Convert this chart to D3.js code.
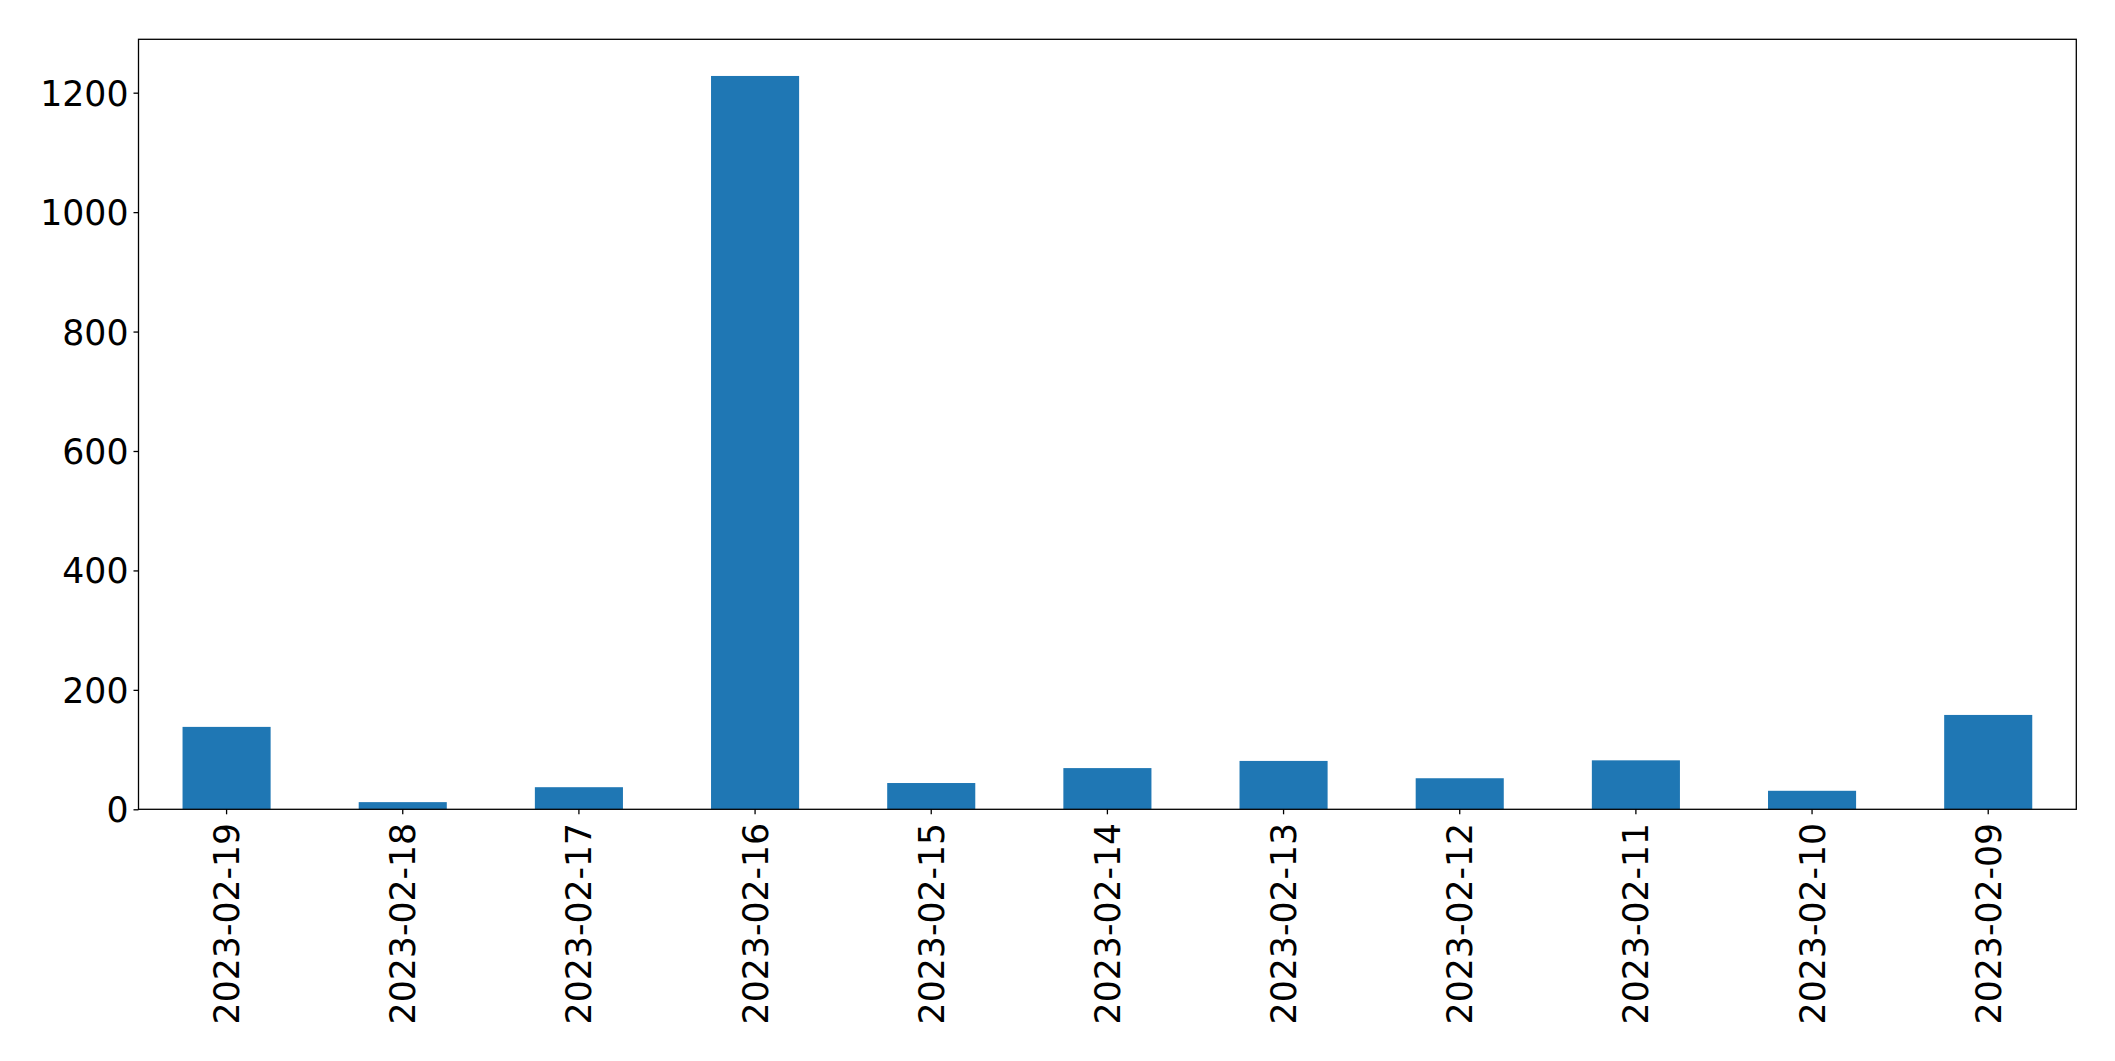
<!DOCTYPE html>
<html>
<head>
<meta charset="utf-8">
<script src="https://cdn.jsdelivr.net/npm/d3@7"></script>
<style>
  html, body { margin: 0; padding: 0; background: #fff; }
  svg { display: block; }
  text { font-family: "DejaVu Sans", sans-serif; fill: #000; }
</style>
</head>
<body>
<svg id="chart" width="2115" height="1061"></svg>
<script>
const categories = ["2023-02-19","2023-02-18","2023-02-17","2023-02-16","2023-02-15","2023-02-14","2023-02-13","2023-02-12","2023-02-11","2023-02-10","2023-02-09"];
const values = [138, 12, 37, 1228, 44, 69, 81, 52, 82, 31, 158];
const yTicks = [0, 200, 400, 600, 800, 1000, 1200];

const W = 2115, H = 1061;
const m = { left: 138.5, top: 39.3, right: W - 2076.3, bottom: H - 809.3 };
const iw = W - m.left - m.right, ih = H - m.top - m.bottom;

const svg = d3.select("#chart");
const g = svg.append("g").attr("transform", `translate(${m.left},${m.top})`);

const x = d3.scaleBand().domain(categories).range([0, iw]).paddingInner(0.5).paddingOuter(0.25);
const y = d3.scaleLinear().domain([0, d3.max(values) * 1.05]).range([ih, 0]);

g.selectAll("rect.bar").data(values).join("rect")
  .attr("class", "bar")
  .attr("x", (d, i) => x(categories[i]))
  .attr("width", x.bandwidth())
  .attr("y", d => y(d))
  .attr("height", d => y(0) - y(d))
  .attr("fill", "#1f77b4");

const fs = 34.7;
const yAxis = g.append("g").call(d3.axisLeft(y).tickValues(yTicks).tickSize(5).tickPadding(5).tickFormat(d3.format("d")));
yAxis.select(".domain").remove();
yAxis.selectAll("line").attr("stroke", "#000").attr("stroke-width", 1.3);
yAxis.selectAll("text").style("font-size", fs + "px").attr("dy", "0.36em");

const xAxis = g.append("g").attr("transform", `translate(0,${ih})`)
  .call(d3.axisBottom(x).tickSize(5).tickPadding(0));
xAxis.select(".domain").remove();
xAxis.selectAll("line").attr("stroke", "#000").attr("stroke-width", 1.3);
xAxis.selectAll("text")
  .style("font-size", fs + "px")
  .attr("text-anchor", "end")
  .attr("transform", "rotate(-90)")
  .attr("x", -13.5)
  .attr("y", 0)
  .attr("dy", "0.36em");

g.append("rect").attr("x", 0).attr("y", 0).attr("width", iw).attr("height", ih)
  .attr("fill", "none").attr("stroke", "#000").attr("stroke-width", 1.3);
</script>
</body>
</html>
